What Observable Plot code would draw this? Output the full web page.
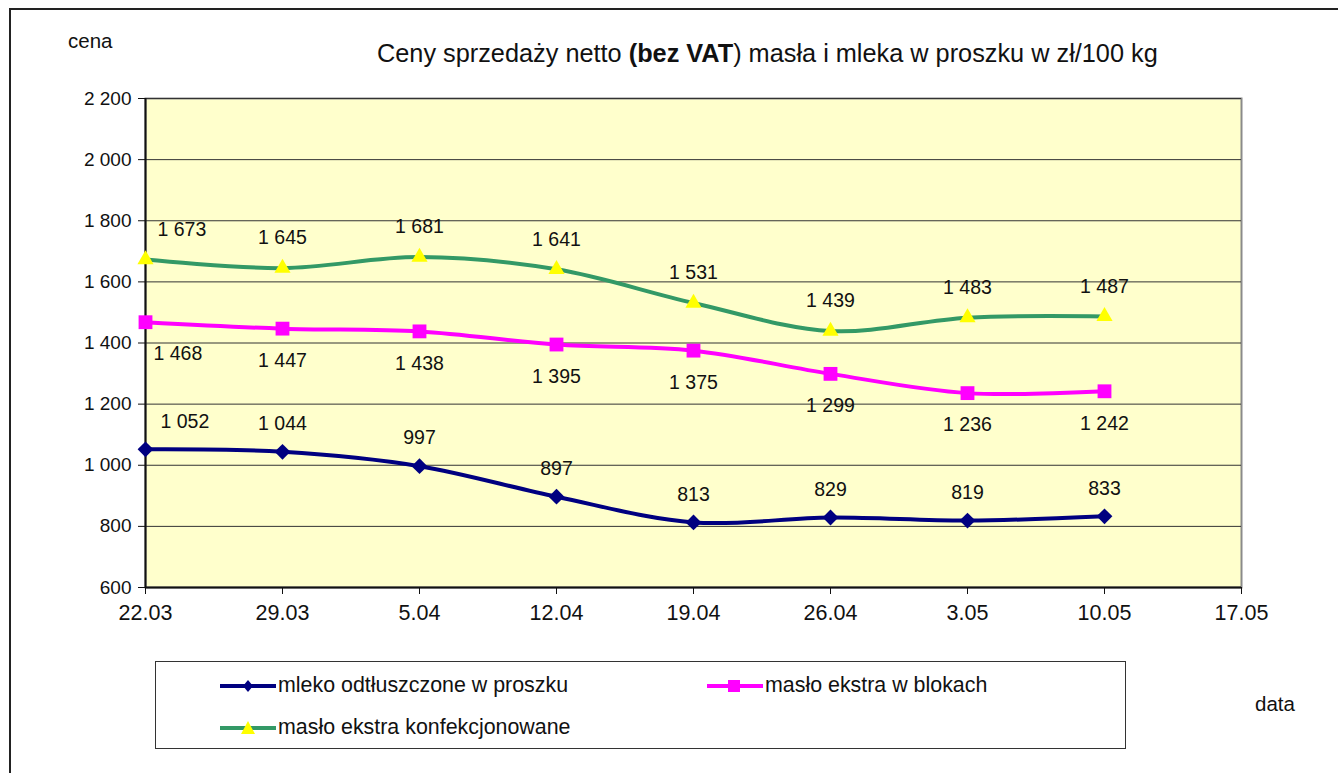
<!DOCTYPE html>
<html>
<head>
<meta charset="utf-8">
<script src="https://cdn.jsdelivr.net/npm/d3@7"></script>
<script src="https://cdn.jsdelivr.net/npm/@observablehq/plot@0.6"></script>
<style>
  body { margin: 0; background: #fff; font-family: "Liberation Sans", Arial, sans-serif; }
  #wrap { position: relative; width: 1338px; height: 773px; overflow: hidden; }
  #border { position: absolute; left: 9px; top: 8px; width: 1400px; height: 800px;
            border-left: 2px solid #222; border-top: 2px solid #222; }
  #chart { position: absolute; left: 0; top: 0; }
  .txt { position: absolute; color: #111; white-space: nowrap; }
  #title { left: 377px; top: 39px; font-size: 25.3px; }
  #cena { left: 68px; top: 29px; font-size: 20.5px; }
  #data { left: 1255px; top: 692px; font-size: 20.5px; }
  #legend { position: absolute; left: 155px; top: 661px; width: 969px; height: 86px;
            border: 1px solid #333; background: #fff; }
  .item { position: absolute; display: flex; align-items: center; font-size: 21.4px; color: #111; }
  .item svg { margin-right: 2px; }
</style>
</head>
<body>
<div id="wrap">
  <div id="border"></div>
  <div id="chart"></div>
  <div class="txt" id="title">Ceny sprzedaży netto <b>(bez VAT</b>) masła i mleka w proszku w zł/100 kg</div>
  <div class="txt" id="cena">cena</div>
  <div class="txt" id="data">data</div>
  <div id="legend"></div>
</div>
<script>
// ---- data ----
const dates = ["22.03", "29.03", "5.04", "12.04", "19.04", "26.04", "3.05", "10.05", "17.05"];
const mlekoOdtluszczone = [1052, 1044, 997, 897, 813, 829, 819, 833];
const masloBloki = [1468, 1447, 1438, 1395, 1375, 1299, 1236, 1242];
const masloKonfekcjonowane = [1673, 1645, 1681, 1641, 1531, 1439, 1483, 1487];
const yTicks = [600, 800, 1000, 1200, 1400, 1600, 1800, 2000, 2200];
const seriesNames = ["mleko odtłuszczone w proszku", "masło ekstra w blokach", "masło ekstra konfekcjonowane"];

const fmt = v => d3.format(",")(v).replace(/,/g, " ");
const toRows = (vals) => vals.map((v, i) => ({date: dates[i], value: v, i}));
const mleko = toRows(mlekoOdtluszczone);
const bloki = toRows(masloBloki);
const konf = toRows(masloKonfekcjonowane);

const NAVY = "#000080", MAG = "#FF00FF", GREEN = "#339966", YEL = "#FFFF00";

function labels(rows, dy, dxFirst) {
  return [
    Plot.text(rows.filter(d => d.i > 0), {x: "date", y: "value", text: d => fmt(d.value),
      dy, fontSize: 19.5, fill: "#111", textAnchor: "middle", lineAnchor: "middle"}),
    Plot.text(rows.filter(d => d.i === 0), {x: "date", y: "value", text: d => fmt(d.value),
      dy, dx: dxFirst, fontSize: 19.5, fill: "#111", textAnchor: "start", lineAnchor: "middle"})
  ];
}

const chart = Plot.plot({
  width: 1338,
  height: 773,
  marginLeft: 145,
  marginRight: 97,
  marginTop: 98,
  marginBottom: 186,
  style: {fontFamily: "'Liberation Sans', Arial, sans-serif", background: "transparent", color: "#111"},
  x: {type: "point", domain: dates, padding: 0, label: null},
  y: {domain: [600, 2200], label: null},
  marks: [
    Plot.frame({fill: "#FFFFCC", stroke: "#8a8a8a", strokeWidth: 2}),
    Plot.gridY(yTicks.slice(1), {stroke: "#333", strokeOpacity: 1, strokeWidth: 1}),
    Plot.axisY(yTicks, {tickFormat: fmt, fontSize: 19, tickSize: 7, tickPadding: 7, label: null, stroke: "#111"}),
    Plot.axisX(dates, {fontSize: 21.5, tickSize: 7, tickPadding: 10, label: null, stroke: "#111"}),
    Plot.ruleX([dates[0]], {stroke: "#111", strokeWidth: 2}),
    Plot.ruleY([600], {stroke: "#111", strokeWidth: 2}),
    Plot.line(konf, {x: "date", y: "value", stroke: GREEN, strokeWidth: 4, curve: "catmull-rom"}),
    Plot.line(bloki, {x: "date", y: "value", stroke: MAG, strokeWidth: 4, curve: "catmull-rom"}),
    Plot.line(mleko, {x: "date", y: "value", stroke: NAVY, strokeWidth: 4, curve: "catmull-rom"}),
    Plot.dot(konf, {x: "date", y: "value", symbol: "triangle", r: 6, fill: YEL, stroke: "none"}),
    Plot.dot(bloki, {x: "date", y: "value", symbol: "square", r: 7.8, fill: MAG, stroke: "none"}),
    Plot.dot(mleko, {x: "date", y: "value", symbol: "square", r: 6.3, rotate: 45, fill: NAVY, stroke: "none"}),
    ...labels(konf, -30, 12),
    ...labels(bloki, 32, 8),
    ...labels(mleko, -28, 15)
  ]
});
document.getElementById("chart").appendChild(chart);

// ---- legend ----
const legendItems = [
  {name: seriesNames[0], stroke: NAVY, fill: NAVY, kind: "diamond", left: 64, top: 11},
  {name: seriesNames[1], stroke: MAG, fill: MAG, kind: "square", left: 551, top: 11},
  {name: seriesNames[2], stroke: GREEN, fill: YEL, kind: "triangle", left: 64, top: 53}
];
const legend = document.getElementById("legend");
for (const it of legendItems) {
  const div = document.createElement("div");
  div.className = "item";
  div.style.left = it.left + "px";
  div.style.top = it.top + "px";
  let marker = "";
  if (it.kind === "diamond") marker = `<path d="M28,3 L33,9 L28,15 L23,9 Z" fill="${it.fill}"/>`;
  if (it.kind === "square") marker = `<rect x="21" y="3" width="12" height="12" fill="${it.fill}"/>`;
  if (it.kind === "triangle") marker = `<path d="M28,2 L35,15 L21,15 Z" fill="${it.fill}"/>`;
  div.innerHTML = `<svg width="56" height="18"><line x1="0" x2="56" y1="9" y2="9" stroke="${it.stroke}" stroke-width="4"/>${marker}</svg><span>${it.name}</span>`;
  legend.appendChild(div);
}
</script>
</body>
</html>
